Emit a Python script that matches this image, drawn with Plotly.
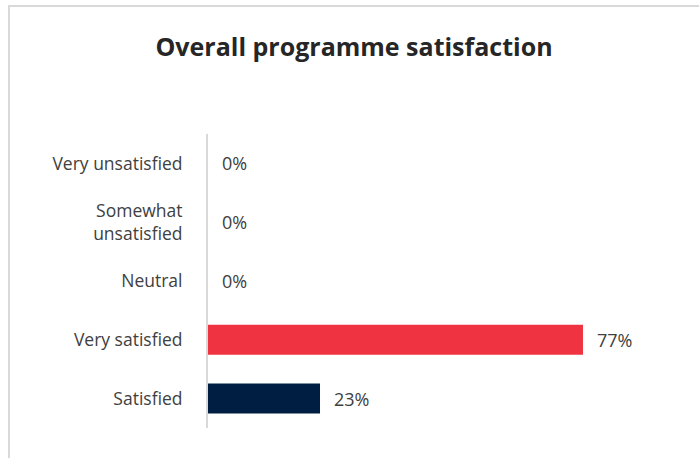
import plotly.graph_objects as go

# Survey responses: overall programme satisfaction
categories = ["Very unsatisfied", "Somewhat<br>unsatisfied", "Neutral", "Very satisfied", "Satisfied"]
shares = [0, 0, 0, 77, 23]
bar_colors = ["#EF3340", "#EF3340", "#EF3340", "#EF3340", "#001E41"]
value_labels = [f"{v}%" for v in shares]

W, H = 699, 458
m_l, m_r, m_t, m_b = 208, 30, 134, 30
plot_w = W - m_l - m_r
plot_h = H - m_t - m_b
x_max = plot_w / 4.87

fig = go.Figure()
fig.add_trace(go.Bar(
    y=categories,
    x=shares,
    orientation="h",
    marker=dict(color=bar_colors, line=dict(width=0)),
    hoverinfo="skip",
))

# value labels placed just to the right of each bar end
for cat, v, lab in zip(categories, shares, value_labels):
    fig.add_annotation(
        x=v, y=cat, text=lab, showarrow=False,
        xanchor="left", yanchor="middle", xshift=12,
        font=dict(family="Open Sans", size=18, color="#404040"),
    )

# chart-area frame
fig.add_shape(
    type="rect", xref="paper", yref="paper",
    x0=(9 - m_l) / plot_w, x1=1.5,
    y0=-0.5, y1=(m_t + plot_h - 6) / plot_h,
    line=dict(color="#D9D9D9", width=2), fillcolor="rgba(0,0,0,0)",
    layer="below",
)

fig.update_layout(
    width=W, height=H,
    margin=dict(l=m_l, r=m_r, t=m_t, b=m_b),
    paper_bgcolor="white", plot_bgcolor="white",
    showlegend=False,
    bargap=0.49,
    title=dict(
        text="<b>Overall programme satisfaction</b>",
        x=(9 + W) / 2 / W, xanchor="center",
        y=1 - 47 / H, yanchor="middle",
        font=dict(family="Open Sans", size=25, color="#262626"),
    ),
    xaxis=dict(
        range=[0, x_max], visible=False, showgrid=False, zeroline=False,
    ),
    yaxis=dict(
        categoryorder="array", categoryarray=categories, autorange="reversed",
        showline=True, linecolor="#D9D9D9", linewidth=2,
        showgrid=False, zeroline=False, ticks="",
        ticklabelstandoff=20,
        tickfont=dict(family="Open Sans", size=17.5, color="#404040"),
    ),
)

fig.write_html("out.html")
